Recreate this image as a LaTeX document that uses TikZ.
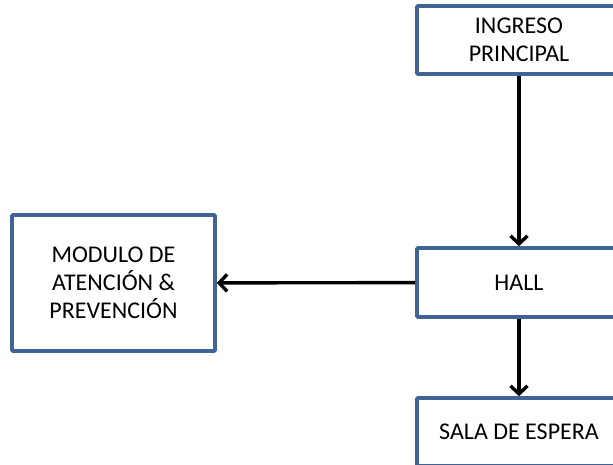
\documentclass[tikz,border=0pt]{standalone}
\usepackage{fontspec}
\setmainfont{Carlito}
\usetikzlibrary{arrows.meta}
\definecolor{boxblue}{RGB}{65,100,150}
\begin{document}
\begin{tikzpicture}[x=1pt,y=-1pt,
  box/.style={draw=boxblue,line width=3.6pt,fill=white,rounded corners=1pt,align=center,
    font=\fontsize{24}{28}\selectfont,inner sep=0pt},
  conn/.style={line width=3.4pt,-{Straight Barb[length=8pt,width=17pt,line width=3.4pt]}}]
\useasboundingbox (0,0) rectangle (613,465);
\clip (0,0) rectangle (613,465);
\node[box,minimum width=204pt,minimum height=68pt] (ing) at (519,40) {INGRESO\\PRINCIPAL};
\node[box,minimum width=204pt,minimum height=69pt] (hall) at (519,282.5) {HALL};
\node[box,minimum width=204pt,minimum height=68pt] (sala) at (519,432) {SALA DE ESPERA};
\node[box,minimum width=203pt,minimum height=136pt] (mod) at (113.5,283) {MODULO DE\\ATENCIÓN \&\\PREVENCIÓN};
\draw[conn] (ing) -- (hall);
\draw[conn] (hall) -- (sala);
\draw[conn] (hall) -- (mod);
\end{tikzpicture}
\end{document}
